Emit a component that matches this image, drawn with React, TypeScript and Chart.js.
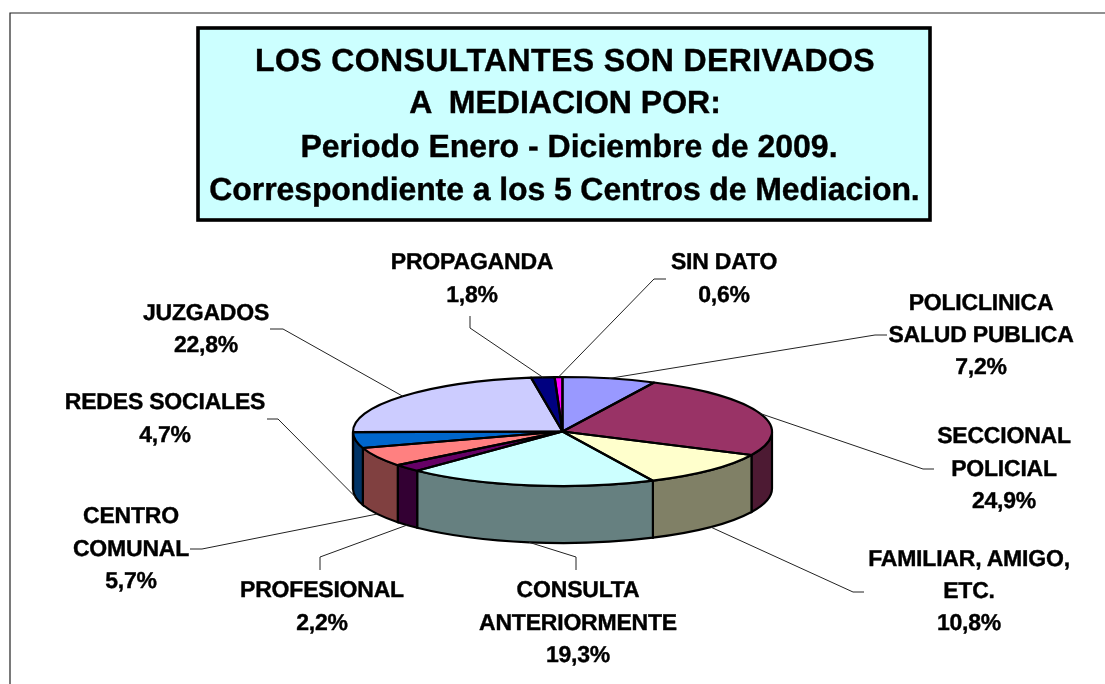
import React, { useEffect, useRef } from "react";
import { Chart, registerables } from "chart.js";

Chart.register(...registerables);

const categories = [
  ["POLICLINICA", "SALUD PUBLICA"],
  ["SECCIONAL", "POLICIAL"],
  ["FAMILIAR, AMIGO,", "ETC."],
  ["CONSULTA", "ANTERIORMENTE"],
  ["PROFESIONAL"],
  ["CENTRO", "COMUNAL"],
  ["REDES SOCIALES"],
  ["JUZGADOS"],
  ["PROPAGANDA"],
  ["SIN DATO"],
];
const values = [7.2, 24.9, 10.8, 19.3, 2.2, 5.7, 4.7, 22.8, 1.8, 0.6];
const colors = ["#9999FF", "#993366", "#FFFFCC", "#CCFFFF", "#660066", "#FF8080", "#0066CC", "#CCCCFF", "#000080", "#FF00FF"];
const wallColors = ["#4D4D80", "#4D1A33", "#808066", "#668080", "#330033", "#804040", "#003366", "#666680", "#000040", "#800080"];
const titleLines = [
  "LOS CONSULTANTES SON DERIVADOS",
  "A  MEDIACION POR:",
  " Periodo Enero - Diciembre de 2009.",
  "Correspondiente a los 5 Centros de Mediacion.",
];

// layout only: label centre x, first baseline y, line step
const labelPos = [
  [981, 310, 32], [1004, 443, 32.5], [969, 566, 32], [578, 597, 32.5], [322, 597, 33],
  [131, 523, 32.5], [165, 409, 33], [206, 320, 32], [472, 269, 33], [724, 269, 33],
];
// layout only: leader-line elbow and end points
const leaders = [
  [[875, 335], [887, 335]],
  [[923, 469], [934, 469]],
  [[853, 592], [864, 592]],
  [[576, 557], [576, 570]],
  [[320, 557], [320, 570]],
  [[202, 549], [190, 549]],
  [[278, 419], [267, 419]],
  [[283, 329], [270, 329]],
  [[470, 328], [470, 316]],
  [[654, 279], [666, 279]],
];
// layout only: title line centre x, baseline y, letter spacing
const titleCx = [565, 565, 569, 564.5];
const titleBase = [71, 113, 157, 200];
const titleSpacing = ["0.4px", "0px", "0px", "-0.1px"];

const W = 1105;
const H = 684;
const PIE_CY = 431.5;
const SQUASH = 54.5 / 209.5;
const DEPTH = 57;

const pie3d = {
  id: "pie3d",
  beforeDraw(chart: any) {
    const c = chart.ctx;
    c.save();
    c.strokeStyle = "#222";
    c.lineWidth = 1.2;
    c.beginPath();
    c.moveTo(W, 13);
    c.lineTo(10, 13);
    c.lineTo(10, H);
    c.stroke();
    c.fillStyle = "#CCFFFF";
    c.fillRect(198, 28, 732, 192);
    c.strokeStyle = "#000";
    c.lineWidth = 3.6;
    c.strokeRect(198, 28, 732, 192);
    c.fillStyle = "#000";
    c.strokeStyle = "#000";
    c.lineWidth = 0.4;
    c.textRendering = "geometricPrecision";
    c.font = 'bold 32px "Liberation Sans"';
    c.textAlign = "center";
    titleLines.forEach((t, i) => {
      c.letterSpacing = titleSpacing[i];
      c.fillText(t.trim(), titleCx[i], titleBase[i]);
      c.strokeText(t.trim(), titleCx[i], titleBase[i]);
    });
    c.letterSpacing = "0px";
    c.restore();
  },
  beforeDatasetsDraw(chart: any) {
    const c = chart.ctx;
    const arcs = chart.getDatasetMeta(0).data;
    c.save();
    c.lineWidth = 2.2;
    c.strokeStyle = "#000";
    arcs.forEach((el: any, i: number) => {
      const { x, startAngle, endAngle, outerRadius: r } = el.getProps(["x", "startAngle", "endAngle", "outerRadius"], true);
      const a0 = Math.max(startAngle, 0);
      const a1 = Math.min(endAngle, Math.PI);
      if (a1 <= a0) return;
      c.beginPath();
      c.ellipse(x, PIE_CY, r, r * SQUASH, 0, a0, a1);
      c.ellipse(x, PIE_CY + DEPTH, r, r * SQUASH, 0, a1, a0, true);
      c.closePath();
      c.fillStyle = wallColors[i];
      c.fill();
      c.stroke();
    });
    c.restore();
    const y0 = arcs[0].y;
    c.save();
    c.translate(0, PIE_CY);
    c.scale(1, SQUASH);
    c.translate(0, -y0);
  },
  afterDatasetsDraw(chart: any) {
    const c = chart.ctx;
    c.restore();
    const arcs = chart.getDatasetMeta(0).data;
    c.save();
    c.lineWidth = 2.2;
    c.strokeStyle = "#000";
    c.lineJoin = "round";
    arcs.forEach((el: any) => {
      const { x, startAngle, endAngle, outerRadius: r } = el.getProps(["x", "startAngle", "endAngle", "outerRadius"], true);
      c.beginPath();
      c.moveTo(x, PIE_CY);
      c.ellipse(x, PIE_CY, r, r * SQUASH, 0, startAngle, endAngle);
      c.closePath();
      c.stroke();
    });
    // leader lines
    c.lineWidth = 1;
    c.strokeStyle = "#222";
    arcs.forEach((el: any, i: number) => {
      const { x, startAngle, endAngle, outerRadius: r } = el.getProps(["x", "startAngle", "endAngle", "outerRadius"], true);
      const mid = (startAngle + endAngle) / 2;
      const sx = x + r * Math.cos(mid);
      let sy = PIE_CY + r * SQUASH * Math.sin(mid);
      if (Math.sin(mid) > 0) sy += DEPTH;
      c.beginPath();
      c.moveTo(sx, sy);
      leaders[i].forEach((p) => c.lineTo(p[0], p[1]));
      c.stroke();
    });
    // labels
    c.fillStyle = "#000";
    c.strokeStyle = "#000";
    c.lineWidth = 0.4;
    c.textRendering = "geometricPrecision";
    c.letterSpacing = "-0.2px";
    c.font = 'bold 23px "Liberation Sans"';
    c.textAlign = "center";
    categories.forEach((lines, i) => {
      const [lx, ly, step] = labelPos[i];
      const all = [...lines, values[i].toFixed(1).replace(".", ",") + "%"];
      all.forEach((t, k) => {
        c.fillText(t, lx, ly + k * step);
        c.strokeText(t, lx, ly + k * step);
      });
    });
    c.letterSpacing = "0px";
    c.restore();
  },
};

export default function App() {
  const ref = useRef<HTMLCanvasElement>(null);
  useEffect(() => {
    const chart = new Chart(ref.current as HTMLCanvasElement, {
      type: "pie",
      data: {
        labels: categories.map((l) => l.join(" ")),
        datasets: [{ data: values, backgroundColor: colors, borderWidth: 0, clip: false } as any],
      },
      options: {
        animation: false,
        responsive: false,
        rotation: 0,
        layout: { padding: { left: 353, right: 333, top: 132, bottom: 133 } },
        plugins: { legend: { display: false }, tooltip: { enabled: false }, title: { display: false } },
      },
      plugins: [pie3d],
    } as any);
    return () => chart.destroy();
  }, []);
  return (
    <div style={{ position: "absolute", left: 0, top: 0, background: "#fff" }}>
      <canvas ref={ref} width={W} height={H} style={{ display: "block" }} />
    </div>
  );
}
